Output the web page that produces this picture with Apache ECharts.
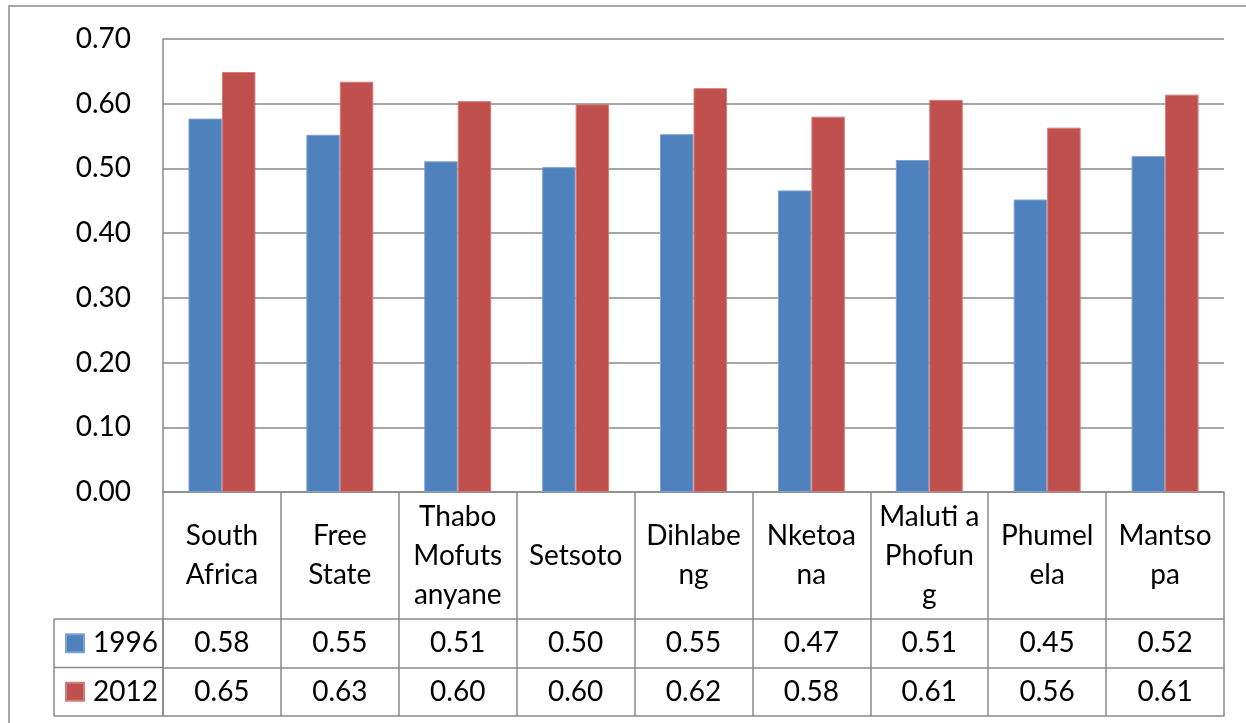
<!DOCTYPE html>
<html>
<head>
<meta charset="utf-8">
<title>1996 vs 2012</title>
<script src="https://cdn.jsdelivr.net/npm/echarts@6/dist/echarts.min.js"></script>
<style>
  html, body { margin: 0; padding: 0; background: #ffffff; }
  #chart { width: 1246px; height: 723px; }
</style>
</head>
<body>
<div id="chart"></div>
<script>
// Municipal areas (header cells wrap inside the table column)
const categories = [
  'South\nAfrica', 'Free\nState', 'Thabo\nMofuts\nanyane', 'Setsoto',
  'Dihlabe\nng', 'Nketoa\nna', 'Maluti a\nPhofun\ng', 'Phumel\nela', 'Mantso\npa'
];
const seriesNames = ['1996', '2012'];
const values1996 = [0.577, 0.552, 0.511, 0.502, 0.553, 0.466, 0.513, 0.452, 0.519];
const values2012 = [0.649, 0.634, 0.604, 0.599, 0.624, 0.580, 0.606, 0.563, 0.614];
const yTicks = { min: 0, max: 0.7, interval: 0.1 };

const FONT = 'Lato, "Open Sans", sans-serif';
const FS = 28;
const LINE = '#898989';
const BLUE = '#4F81BD';
const RED = '#C0504D';

// table geometry
const plotLeft = 163, plotRight = 1224, plotBottom = 492;
const headerH = 127, rowH = 48.5;
const legendColLeft = 54;
const row1Top = plotBottom + headerH;
const row2Top = row1Top + rowH;
const tableBottom = row2Top + rowH;
const keySize = 18;

const chart = echarts.init(document.getElementById('chart'), null, { renderer: 'canvas' });

function tableAxis(offset, tickLen, labels) {
  return {
    type: 'category',
    data: categories,
    position: 'bottom',
    offset: offset,
    boundaryGap: true,
    axisLine: { show: true, lineStyle: { color: LINE, width: 1.5 } },
    axisTick: { show: tickLen > 0, interval: 0, length: tickLen, lineStyle: { color: LINE, width: 1.5 } },
    axisLabel: labels ? {
      show: true, interval: 0, margin: rowH / 2, verticalAlign: 'middle',
      color: '#000', fontFamily: FONT, fontSize: FS,
      formatter: (v, i) => labels[i].toFixed(2)
    } : { show: false },
    splitLine: { show: false }
  };
}

// one legend entry per table row; the item box is one text line tall
function rowLegend(name, rowTop) {
  return {
    data: [name],
    orient: 'vertical',
    left: 60,
    top: rowTop + rowH / 2 - FS / 2 - 5,
    icon: 'rect',
    itemWidth: keySize,
    itemHeight: keySize,
    selectedMode: false,
    textStyle: { color: '#000', fontFamily: FONT, fontSize: FS, padding: [0, 0, 0, 4] }
  };
}

const option = {
  animation: false,
  backgroundColor: '#ffffff',
  grid: { left: plotLeft, right: 1246 - plotRight, top: 39, bottom: 723 - plotBottom, containLabel: false },
  legend: [rowLegend(seriesNames[0], row1Top), rowLegend(seriesNames[1], row2Top)],
  xAxis: [
    {
      type: 'category',
      data: categories,
      position: 'bottom',
      boundaryGap: true,
      axisLine: { show: true, lineStyle: { color: LINE, width: 1.5 } },
      axisTick: { show: true, interval: 0, length: headerH, lineStyle: { color: LINE, width: 1.5 } },
      axisLabel: {
        show: true, interval: 0, margin: headerH / 2, verticalAlign: 'middle',
        color: '#000', fontFamily: FONT, fontSize: FS, lineHeight: 39, align: 'center'
      },
      splitLine: { show: false }
    },
    tableAxis(headerH, rowH, values1996),
    tableAxis(headerH + rowH, rowH, values2012),
    tableAxis(headerH + 2 * rowH, 0, null)
  ],
  yAxis: {
    type: 'value',
    min: yTicks.min,
    max: yTicks.max,
    interval: yTicks.interval,
    axisLine: { show: true, lineStyle: { color: LINE, width: 1.5 } },
    axisTick: { show: false },
    axisLabel: {
      color: '#000', fontFamily: FONT, fontSize: FS, margin: 32,
      formatter: v => v.toFixed(2)
    },
    splitLine: { show: true, lineStyle: { color: LINE, width: 1.5 } }
  },
  series: [
    {
      name: seriesNames[0], type: 'bar', xAxisIndex: 0, data: values1996,
      barWidth: '28.4%', barGap: '0%',
      itemStyle: { color: BLUE, borderColor: '#7fa3d1', borderWidth: 1 }
    },
    {
      name: seriesNames[1], type: 'bar', xAxisIndex: 0, data: values2012,
      barWidth: '28.4%', barGap: '0%',
      itemStyle: { color: RED, borderColor: '#d47c79', borderWidth: 1 }
    }
  ],
  graphic: [
    // chart frame
    { type: 'rect', shape: { x: 9, y: 6, width: 1400, height: 900 }, style: { fill: 'none', stroke: LINE, lineWidth: 1.5 }, silent: true },
    // legend column of the data table
    { type: 'line', shape: { x1: legendColLeft, y1: row1Top, x2: plotLeft, y2: row1Top }, style: { stroke: LINE, lineWidth: 1.5 } },
    { type: 'line', shape: { x1: legendColLeft, y1: row2Top, x2: plotLeft, y2: row2Top }, style: { stroke: LINE, lineWidth: 1.5 } },
    { type: 'line', shape: { x1: legendColLeft, y1: tableBottom, x2: plotLeft, y2: tableBottom }, style: { stroke: LINE, lineWidth: 1.5 } },
    { type: 'line', shape: { x1: legendColLeft, y1: row1Top, x2: legendColLeft, y2: tableBottom }, style: { stroke: LINE, lineWidth: 1.5 } },
    { type: 'line', shape: { x1: plotLeft, y1: row1Top, x2: plotLeft, y2: tableBottom }, style: { stroke: LINE, lineWidth: 1.5 } }
  ]
};

chart.setOption(option);
</script>
</body>
</html>
